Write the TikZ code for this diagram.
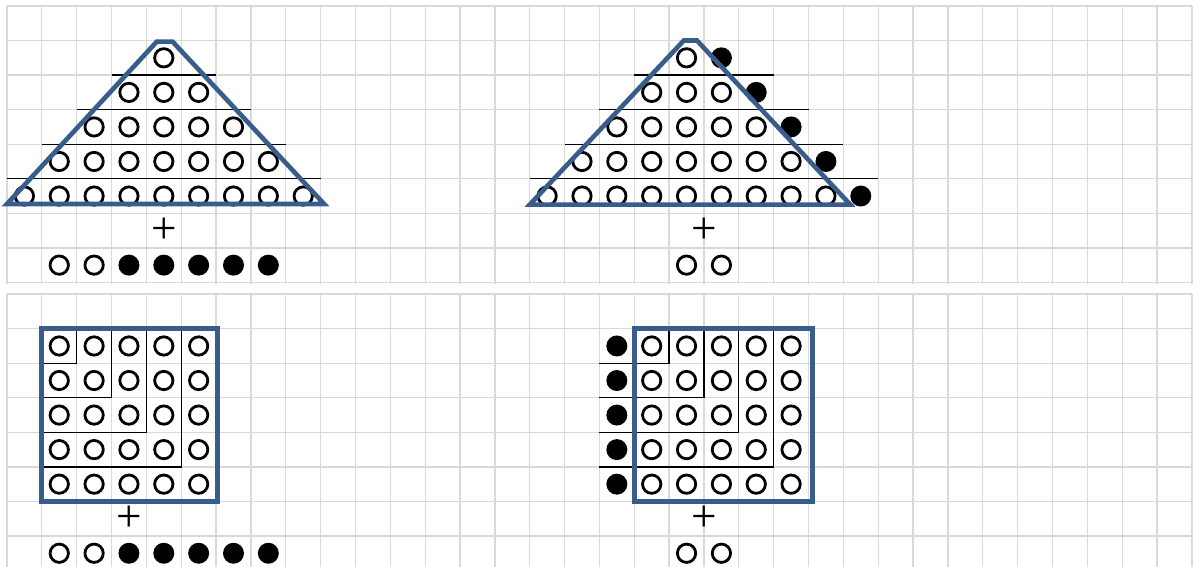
\documentclass[tikz,border=0pt]{standalone}
\usepackage{fontspec}
\usepackage{tikz}

\newfontfamily\plusfont{Liberation Serif}
\definecolor{gridgray}{RGB}{217,217,217}
\definecolor{shapeblue}{HTML}{385D8A}

\tikzset{
  cell/.style={gridgray, line width=1pt},
  split/.style={black, line width=1pt},
  bead/.style={draw=black, line width=2.1pt},
  fullbead/.style={fill=black},
  rim/.style={shapeblue, line width=3.5pt},
  plus/.style={font=\plusfont\fontsize{34}{38}\selectfont, inner sep=0pt},
}

\begin{document}
\begin{tikzpicture}[x=0.922cm, y=0.914cm]
  \def\xmax{34}
  \def\ylow{-8.34}  % top line of the lower grid
  \def\beadr{6.9pt}\def\fullr{7.9pt}

  \useasboundingbox (-0.2,0.174) rectangle (34.09,-16.21);

  % Upper grid
  \foreach \x in {0,...,34}
    \draw[cell] (\x,0) -- (\x,-8.05);
  \foreach \y in {0,...,8}
    \draw[cell] (0,-\y) -- (\xmax,-\y);

  % Lower grid
  \foreach \x in {0,...,34}
    \draw[cell] (\x,\ylow) -- (\x,-16.4);
  \foreach \y in {0,...,7}
    \draw[cell] (0,\ylow-\y) -- (\xmax,\ylow-\y);

  % --- Triangle, left ---
  \foreach \k in {2,...,5}
    \draw[split] (5-\k,-\k) -- (4+\k,-\k);
  \foreach \k in {1,...,5} {
    \pgfmathtruncatemacro\lo{5-\k}
    \pgfmathtruncatemacro\hi{3+\k}
    \foreach \x in {\lo,...,\hi}
      \draw[bead] (\x+0.5,-\k-0.5) circle (\beadr);
  }
  \draw[rim] (0,-5.73) -- (4.3,-1.03) -- (4.75,-1.03) -- (9.1,-5.73) -- cycle;

  \node[plus] (plusA) at (4.5,-6.5) {+};
  \foreach \x in {1,2}
    \draw[bead] (\x+0.5,-7.5) circle (\beadr);
  \foreach \x in {3,...,7}
    \fill[fullbead] (\x+0.5,-7.5) circle (\fullr);

  % --- Triangle, right ---
  \foreach \k in {2,...,5}
    \draw[split] (20-\k,-\k) -- (20+\k,-\k);
  \foreach \k in {1,...,5} {
    \pgfmathtruncatemacro\lo{20-\k}
    \pgfmathtruncatemacro\hi{18+\k}
    \foreach \x in {\lo,...,\hi}
      \draw[bead] (\x+0.5,-\k-0.5) circle (\beadr);
    \fill[fullbead] (19.5+\k,-\k-0.5) circle (\fullr);
  }
  \draw[rim] (15,-5.75) -- (19.42,-1.0) -- (19.8,-1.0) -- (24.2,-5.75) -- cycle;

  \node[plus] (plusB) at (20,-6.5) {+};
  \foreach \x in {19,20}
    \draw[bead] (\x+0.5,-7.5) circle (\beadr);

  % --- Square, left ---
  \foreach \k in {1,...,4}
    \draw[split] (1+\k,\ylow-1) -- (1+\k,\ylow-1-\k) -- (1,\ylow-1-\k);
  \foreach \x in {1,...,5}
    \foreach \y in {1,...,5}
      \draw[bead] (\x+0.5,\ylow-\y-0.5) circle (\beadr);
  \draw[rim] (1,\ylow-1) rectangle (6.05,\ylow-6);

  \node[plus] (plusC) at (3.5,\ylow-6.5) {+};
  \foreach \x in {1,2}
    \draw[bead] (\x+0.5,\ylow-7.5) circle (\beadr);
  \foreach \x in {3,...,7}
    \fill[fullbead] (\x+0.5,\ylow-7.5) circle (\fullr);

  % --- Square, right ---
  \foreach \k in {1,...,4}
    \draw[split] (18+\k,\ylow-1) -- (18+\k,\ylow-1-\k) -- (17,\ylow-1-\k);
  \foreach \y in {1,...,5} {
    \fill[fullbead] (17.5,\ylow-\y-0.5) circle (\fullr);
    \foreach \x in {18,...,22}
      \draw[bead] (\x+0.5,\ylow-\y-0.5) circle (\beadr);
  }
  \draw[rim] (18,\ylow-1) rectangle (23.12,\ylow-6);

  \node[plus] (plusD) at (20,\ylow-6.5) {+};
  \foreach \x in {19,20}
    \draw[bead] (\x+0.5,\ylow-7.5) circle (\beadr);
\end{tikzpicture}
\end{document}
